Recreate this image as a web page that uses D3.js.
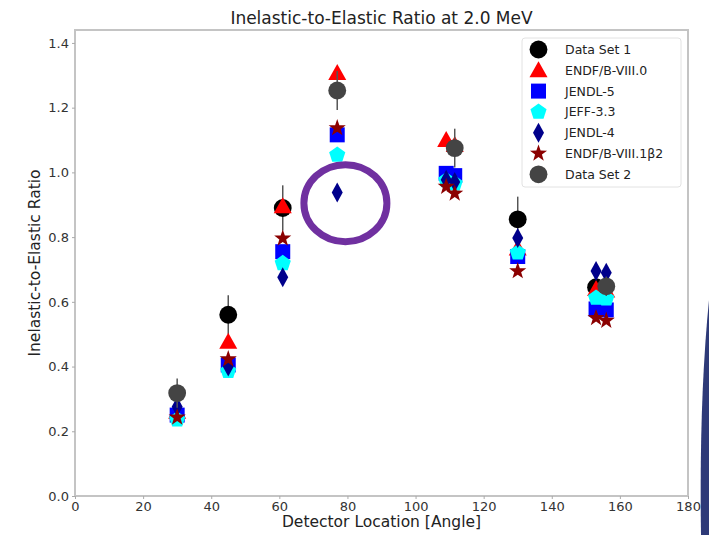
<!DOCTYPE html>
<html>
<head>
<meta charset="utf-8">
<title>Inelastic-to-Elastic Ratio</title>
<style>
  body {margin: 0; background: white;}
  svg text {font-family: "DejaVu Sans", sans-serif;}
</style>
</head>
<body>
<div id="chart"></div>
<script src="https://d3js.org/d3.v7.min.js"></script>
<script>
// detector angles (two data sets sit at slightly different angles)
var angles = [30, 45, 61, 77, 109, 111.5, 130, 153, 156];
var xTicks = [0, 20, 40, 60, 80, 100, 120, 140, 160, 180];
var yTicks = [0.0, 0.2, 0.4, 0.6, 0.8, 1.0, 1.2, 1.4];

var dataSet1    = [null, 0.56, 0.89, null, null, null, 0.855, 0.645, null];
var dataSet1Err = [null, 0.06, 0.07, null, null, null, 0.07, 0.03, null];
var dataSet2    = [0.318, null, null, 1.253, null, 1.075, null, null, 0.648];
var dataSet2Err = [0.045, null, null, 0.06, null, 0.06, null, null, 0.03];
var endf80  = [0.26, 0.477, 0.895, 1.307, 1.10, 1.085, 0.765, 0.64, 0.635];
var jendl5  = [0.25, 0.405, 0.755, 1.116, 0.997, 0.99, 0.74, 0.578, 0.575];
var jeff33  = [0.236, 0.386, 0.719, 1.054, 0.975, 0.965, 0.752, 0.612, 0.61];
var jendl4  = [0.276, 0.40, 0.676, 0.938, 0.977, 0.97, 0.797, 0.695, 0.69];
var endf81  = [0.243, 0.423, 0.796, 1.137, 0.956, 0.935, 0.695, 0.55, 0.542];

var series = [
  {name: "Data Set 1", values: dataSet1, err: dataSet1Err, shape: "circle", color: "#000000"},
  {name: "ENDF/B-VIII.0", values: endf80, shape: "triangle", color: "#ff0000"},
  {name: "JENDL-5", values: jendl5, shape: "square", color: "#0000ff"},
  {name: "JEFF-3.3", values: jeff33, shape: "pentagon", color: "#00ffff"},
  {name: "JENDL-4", values: jendl4, shape: "diamond", color: "#00008b"},
  {name: "ENDF/B-VIII.1\u03B22", values: endf81, shape: "star", color: "#8b0000"},
  {name: "Data Set 2", values: dataSet2, err: dataSet2Err, shape: "circle", color: "#444444"}
];

var W = 709, H = 535;
var margin = {top: 30, right: 21, bottom: 39, left: 75};

var svg = d3.select("#chart").append("svg")
    .attr("width", W).attr("height", H);

var x = d3.scaleLinear().domain([0, 180]).range([margin.left, W - margin.right]);
var y = d3.scaleLinear().domain([0, 1.44]).range([H - margin.bottom, margin.top]);

// marker outlines
function poly(n, r, rot) {
  var pts = [];
  for (var i = 0; i < n; i++) {
    var a = rot + i * 2 * Math.PI / n;
    pts.push([r * Math.cos(a), r * Math.sin(a)]);
  }
  return "M" + pts.map(function(p) { return p.join(","); }).join("L") + "Z";
}
function markerPath(shape) {
  if (shape == "circle") return d3.symbol(d3.symbolCircle, 250)();
  if (shape == "triangle") return "M0,-9L9,7L-9,7Z";
  if (shape == "square") return "M-7.5,-7.5L7.5,-7.5L7.5,7.5L-7.5,7.5Z";
  if (shape == "pentagon") return poly(5, 8.5, -Math.PI / 2);
  if (shape == "diamond") return "M0,-10L5.5,0L0,10L-5.5,0Z";
  if (shape == "star") {
    var pts = [];
    for (var i = 0; i < 10; i++) {
      var r = i % 2 ? 3.6 : 9;
      var a = -Math.PI / 2 + i * Math.PI / 5;
      pts.push([r * Math.cos(a), r * Math.sin(a)]);
    }
    return "M" + pts.map(function(p) { return p.join(","); }).join("L") + "Z";
  }
}

// frame
svg.append("rect")
    .attr("x", x(0)).attr("y", y(1.44))
    .attr("width", x(180) - x(0)).attr("height", y(0) - y(1.44))
    .attr("fill", "none").attr("stroke", "#c4c4c4").attr("stroke-width", 2);

var xAxis = svg.append("g")
    .attr("transform", "translate(0," + y(0) + ")")
    .call(d3.axisBottom(x).tickValues(xTicks).tickSize(3).tickPadding(3));
var yAxis = svg.append("g")
    .attr("transform", "translate(" + x(0) + ",0)")
    .call(d3.axisLeft(y).tickValues(yTicks).tickFormat(d3.format(".1f")).tickSize(3).tickPadding(3));
[xAxis, yAxis].forEach(function(ax) {
  ax.select(".domain").remove();
  ax.selectAll(".tick line").attr("stroke", "#aaa");
  ax.selectAll(".tick text").attr("font-size", 13).attr("fill", "#333")
      .attr("font-family", "DejaVu Sans, sans-serif");
});

// error bars and markers
series.forEach(function(s) {
  var pts = angles.map(function(a, i) { return {a: a, v: s.values[i], e: s.err ? s.err[i] : null}; })
      .filter(function(d) { return d.v != null; });
  var g = svg.append("g");
  if (s.err) {
    g.selectAll("line").data(pts).enter().append("line")
        .attr("x1", function(d) { return x(d.a); })
        .attr("x2", function(d) { return x(d.a); })
        .attr("y1", function(d) { return y(d.v - d.e); })
        .attr("y2", function(d) { return y(d.v + d.e); })
        .attr("stroke", "#555").attr("stroke-width", 1.5);
  }
  g.selectAll("path").data(pts).enter().append("path")
      .attr("d", markerPath(s.shape))
      .attr("transform", function(d) { return "translate(" + x(d.a) + "," + y(d.v) + ")"; })
      .attr("fill", s.color);
});

// title and axis labels
svg.append("text").attr("x", (x(0) + x(180)) / 2).attr("y", 24)
    .attr("text-anchor", "middle").attr("font-size", 17).attr("fill", "#222")
    .text("Inelastic-to-Elastic Ratio at 2.0 MeV");
svg.append("text").attr("x", (x(0) + x(180)) / 2).attr("y", 527)
    .attr("text-anchor", "middle").attr("font-size", 15.5).attr("fill", "#222")
    .text("Detector Location [Angle]");
svg.append("text")
    .attr("transform", "translate(40," + (y(0) + y(1.44)) / 2 + ") rotate(-90)")
    .attr("text-anchor", "middle").attr("font-size", 15.5).attr("fill", "#222")
    .text("Inelastic-to-Elastic Ratio");

// legend
var lg = svg.append("g").attr("transform", "translate(522,38)");
lg.append("rect").attr("width", 159).attr("height", 149).attr("rx", 3)
    .attr("fill", "white").attr("stroke", "#e2e2e2");
series.forEach(function(s, i) {
  var yy = 11.5 + i * 20.8;
  lg.append("path").attr("d", markerPath(s.shape))
      .attr("transform", "translate(16.5," + yy + ")").attr("fill", s.color);
  lg.append("text").attr("x", 43).attr("y", yy + 4.5)
      .attr("font-size", 12.5).attr("fill", "#222").text(s.name);
});

// highlight ring around JENDL-4 at 77 deg
svg.append("ellipse").attr("cx", x(79.4)).attr("cy", y(0.905))
    .attr("rx", 41.5).attr("ry", 38.5)
    .attr("fill", "none").attr("stroke", "#7030a0").attr("stroke-width", 7);

// slide decoration at the right edge
svg.append("path")
    .attr("d", "M709,300 Q699,400 701,535 L709,535 Z")
    .attr("fill", "#2e3a78");
</script>
</body>
</html>
